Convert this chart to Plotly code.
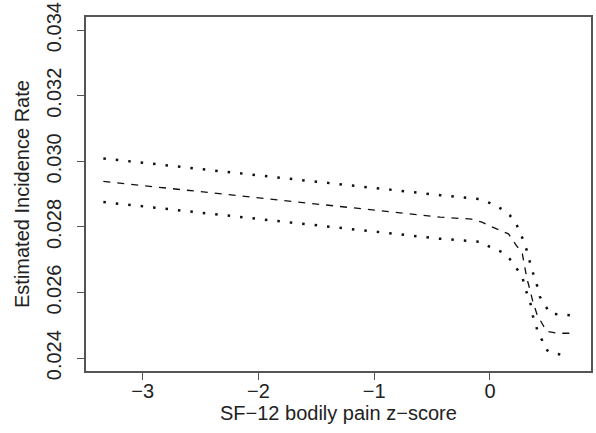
import plotly.graph_objects as go

# estimated incidence rate vs SF-12 bodily pain z-score (fit + bounds)
upper_x = [-3.34, -2.5, -1.5, -0.43, -0.09, 0.0, 0.10, 0.17, 0.22, 0.29, 0.32, 0.36,
           0.41, 0.43, 0.48, 0.52, 0.62, 0.72]
upper_y = [0.03009, 0.02976, 0.02938, 0.02897, 0.02885, 0.02873, 0.02855, 0.02836,
           0.02815, 0.02758, 0.02727, 0.02673, 0.02618, 0.02588, 0.02561, 0.02536,
           0.02533, 0.02530]

mid_x = [-3.34, -2.5, -1.5, -0.43, -0.16, -0.07, 0.0, 0.06, 0.16, 0.22, 0.28, 0.30,
         0.32, 0.35, 0.37, 0.41, 0.45, 0.49, 0.59, 0.71]
mid_y = [0.02939, 0.02908, 0.02870, 0.02830, 0.02824, 0.02815, 0.02803, 0.02794,
         0.02779, 0.02748, 0.02718, 0.02679, 0.02642, 0.02603, 0.02573, 0.02530,
         0.02506, 0.02482, 0.02476, 0.02476]

lower_x = [-3.34, -2.5, -1.5, -0.43, -0.09, 0.0, 0.10, 0.17, 0.22, 0.28, 0.30, 0.32,
           0.35, 0.37, 0.41, 0.45, 0.48, 0.54, 0.65]
lower_y = [0.02876, 0.02843, 0.02805, 0.02764, 0.02755, 0.02739, 0.02724, 0.02703,
           0.02679, 0.02648, 0.02618, 0.02597, 0.02567, 0.02530, 0.02485, 0.02455,
           0.02427, 0.02415, 0.02409]

x_ticks = [-3, -2, -1, 0]
y_ticks = [0.024, 0.026, 0.028, 0.030, 0.032, 0.034]

FONT = "Liberation Sans, Arial, sans-serif"

fig = go.Figure()
fig.add_trace(go.Scatter(x=upper_x, y=upper_y, mode="lines",
                         line=dict(color="#111", width=2.5, dash="2.5px,10px")))
fig.add_trace(go.Scatter(x=mid_x, y=mid_y, mode="lines",
                         line=dict(color="#111", width=1.3, dash="7px,7px")))
fig.add_trace(go.Scatter(x=lower_x, y=lower_y, mode="lines",
                         line=dict(color="#111", width=2.5, dash="2.5px,10px")))

fig.update_layout(
    width=596, height=433,
    margin=dict(l=86, r=5, t=17, b=62),
    showlegend=False,
    plot_bgcolor="white", paper_bgcolor="white",
    font=dict(family=FONT, size=20, color="#222"),
)
fig.update_xaxes(
    range=[-3.49, 0.873], tickvals=x_ticks, ticks="outside", ticklen=7,
    tickcolor="#555", showgrid=False, zeroline=False, automargin=False,
    ticklabelstandoff=-6,
    showline=True, mirror=True, linecolor="#555", linewidth=1.5,
)
fig.update_yaxes(
    range=[0.02361, 0.0344], tickvals=y_ticks, tickformat=".3f", tickangle=-90,
    ticks="outside", ticklen=7, tickcolor="#555", showgrid=False, zeroline=False,
    automargin=False, ticklabelstandoff=8, ticklabeloverflow="allow",
    showline=True, mirror=True, linecolor="#555", linewidth=1.5,
)

# axis titles placed by hand, R-style
fig.add_annotation(text="SF\u221212 bodily pain z\u2212score", xref="paper", yref="paper",
                   x=0.5, y=0, yanchor="middle", yshift=-42, showarrow=False,
                   font=dict(size=20))
fig.add_annotation(text="Estimated Incidence Rate", xref="paper", yref="paper",
                   x=0, y=0.5, xanchor="center", xshift=-64, textangle=-90,
                   showarrow=False, font=dict(size=20))

# drop the browser's default 8px body margin so the figure fills the window
fig.write_html("out.html", config={"displayModeBar": False},
               post_script="document.body.style.margin = '0px';")
